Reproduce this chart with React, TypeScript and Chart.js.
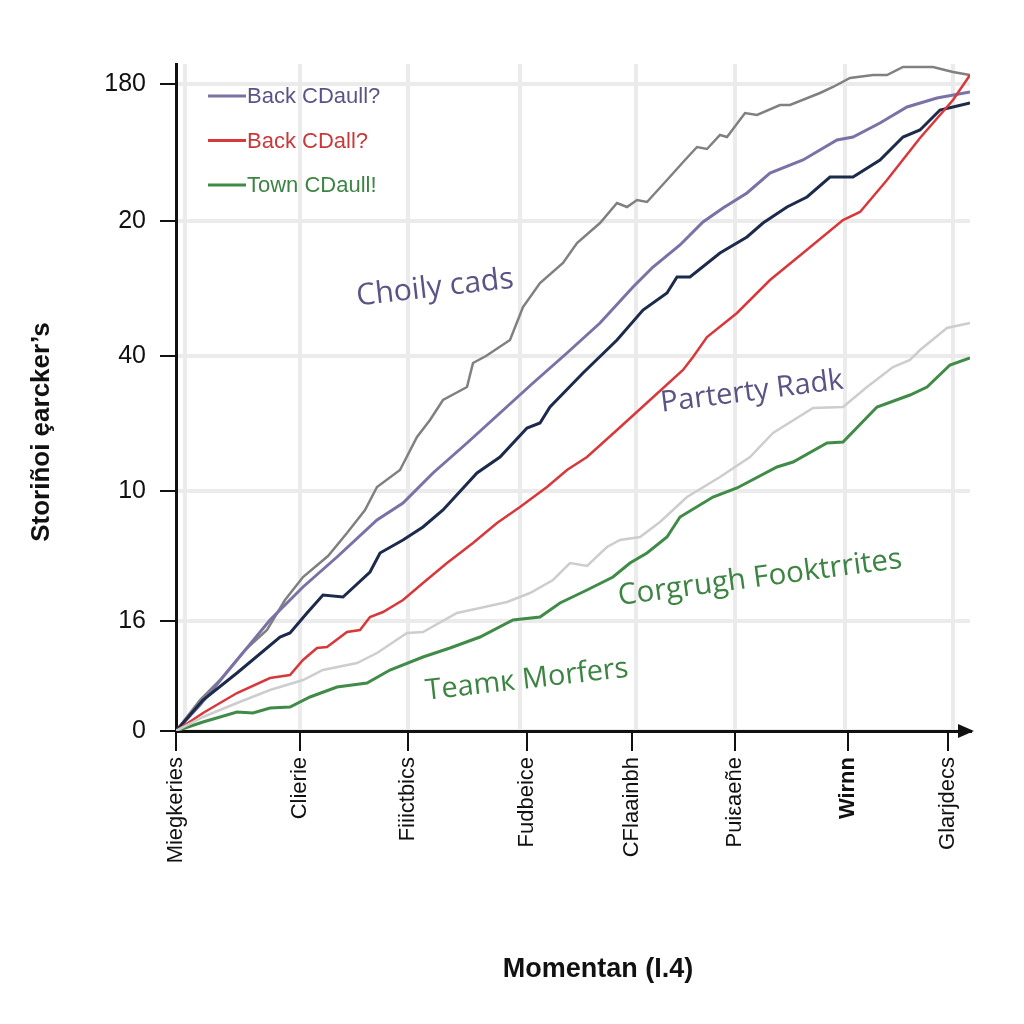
import React, { useEffect, useRef } from 'react';
import { Chart, registerables } from 'chart.js';

Chart.register(...registerables);

// ---- Data (x in "momentum" units along the axis, y in level units) ----
const X_TICKS = [0, 124, 232, 351, 456, 559, 672, 772];
const X_LABELS = ['Miegkeries', 'Clierie', 'Fiiictbics', 'Fudbeice', 'CFlaainbh', 'Puiεaeñe', 'Wirnn', 'Glarjdecs'];
const X_GRID = [9, 124, 232, 344, 460, 559, 669, 777];

const Y_TICKS = [0, 110, 240, 375, 510, 647];
const Y_LABELS = ['0', '16', '10', '40', '20', '180'];

const GRAY_X = [0, 24, 44, 69, 91, 109, 127, 152, 171, 189, 201, 224, 241, 254, 267, 291, 297, 310, 334, 347, 364, 387, 401, 424, 441, 451, 461, 471, 491, 509, 521, 531, 544, 551, 569, 581, 604, 614, 644, 657, 674, 697, 711, 727, 757, 777, 794];
const GRAY_Y = [0, 31, 51, 81, 101, 131, 154, 175, 198, 221, 244, 261, 294, 311, 331, 344, 368, 375, 391, 424, 448, 468, 488, 508, 528, 524, 531, 529, 551, 571, 584, 582, 596, 594, 618, 616, 626, 626, 638, 644, 653, 656, 656, 664, 664, 659, 656];

const PURPLE_X = [0, 24, 61, 94, 127, 161, 201, 227, 257, 291, 324, 357, 391, 424, 457, 477, 504, 527, 547, 571, 594, 627, 661, 677, 704, 731, 761, 794];
const PURPLE_Y = [0, 26, 71, 111, 144, 174, 211, 228, 258, 288, 318, 348, 378, 408, 444, 464, 486, 509, 523, 538, 558, 571, 591, 594, 608, 624, 633, 639];

const NAVY_X = [0, 27, 61, 104, 114, 131, 147, 167, 194, 204, 227, 247, 267, 301, 324, 351, 364, 374, 407, 441, 467, 491, 501, 514, 544, 571, 587, 611, 631, 654, 677, 704, 727, 744, 764, 777, 794];
const NAVY_Y = [0, 31, 58, 94, 98, 118, 136, 134, 159, 178, 191, 204, 221, 258, 274, 303, 308, 324, 358, 391, 421, 438, 454, 454, 478, 494, 508, 524, 534, 554, 554, 571, 594, 601, 621, 624, 628];

const RED_X = [0, 27, 61, 94, 114, 127, 141, 151, 171, 184, 194, 207, 227, 247, 271, 297, 321, 344, 371, 391, 411, 441, 474, 507, 517, 531, 561, 594, 627, 667, 684, 711, 744, 777, 794];
const RED_Y = [0, 18, 38, 53, 56, 71, 83, 84, 99, 101, 114, 119, 131, 148, 168, 188, 208, 224, 244, 261, 274, 301, 331, 361, 374, 394, 418, 451, 478, 511, 519, 551, 593, 631, 656];

const LIGHT_X = [0, 27, 61, 94, 127, 147, 181, 201, 231, 247, 281, 304, 331, 354, 377, 394, 411, 431, 444, 464, 484, 511, 544, 574, 597, 637, 667, 691, 717, 734, 744, 771, 794];
const LIGHT_Y = [0, 14, 28, 41, 51, 61, 68, 78, 98, 99, 118, 123, 129, 138, 151, 168, 165, 184, 191, 194, 209, 234, 254, 274, 298, 323, 324, 344, 364, 371, 381, 403, 408];

const GREEN_X = [0, 27, 61, 77, 94, 114, 134, 161, 191, 214, 247, 274, 304, 337, 364, 384, 411, 437, 454, 471, 491, 504, 537, 561, 601, 617, 651, 667, 701, 734, 751, 774, 794];
const GREEN_Y = [0, 9, 19, 18, 23, 24, 34, 44, 48, 61, 74, 83, 94, 111, 114, 128, 141, 154, 168, 178, 194, 214, 234, 243, 264, 269, 288, 289, 324, 336, 344, 366, 373];

const LEGEND_LABELS = ['Back CDaull?', 'Back CDall?', 'Town CDaull!'];

const X_TITLE = 'Momentan (I.4)';
const Y_TITLE = 'Storiñoi ȩarcker\u2019s';

// ---- Styles ----
const FONT = '"Liberation Sans", Arial, sans-serif';
const ANNO_FONT = '"Open Sans", "Noto Sans", sans-serif';
const C_GRAY = '#808080';
const C_PURPLE = '#7a72a6';
const C_NAVY = '#1c2b4b';
const C_RED = '#d8383a';
const C_LIGHT = '#cdcdcd';
const C_GREEN = '#3f8b47';
const T_PURPLE = '#5a5486';
const T_RED = '#c8393b';
const T_GREEN = '#3d8443';
const GRID = '#ebebeb';
const AXIS = '#111111';

const LEGEND_COLORS = [[C_PURPLE, T_PURPLE], [C_RED, T_RED], [C_GREEN, T_GREEN]];

const ANNOTATIONS = [
  { text: 'Choily cads', x: 259, y: 443, color: T_PURPLE, width: 158, angle: -6.5 },
  { text: 'Parterty Radk', x: 576, y: 339, color: T_PURPLE, width: 184, angle: -7.2 },
  { text: 'Corgrugh Fooktrrites', x: 584, y: 153, color: T_GREEN, width: 286, angle: -7.5 },
  { text: 'Teamк Morfers', x: 351, y: 51, color: T_GREEN, width: 204, angle: -6.5 },
];

const toPoints = (xs: number[], ys: number[]) => xs.map((x, i) => ({ x, y: ys[i] }));

const overlayPlugin = {
  id: 'overlay',
  beforeDraw(chart: any) {
    const { ctx } = chart;
    ctx.save();
    ctx.fillStyle = '#ffffff';
    ctx.fillRect(0, 0, chart.width, chart.height);
    ctx.restore();
  },
  afterDatasetsDraw(chart: any) {
    const { ctx, scales } = chart;
    ANNOTATIONS.forEach((a) => {
      const px = scales.x.getPixelForValue(a.x);
      const py = scales.y.getPixelForValue(a.y);
      ctx.save();
      ctx.font = `100px ${ANNO_FONT}`;
      const w = ctx.measureText(a.text).width;
      const size = (100 * a.width) / w;
      ctx.font = `${size}px ${ANNO_FONT}`;
      ctx.translate(px, py);
      ctx.rotate((a.angle * Math.PI) / 180);
      ctx.fillStyle = a.color;
      ctx.textAlign = 'center';
      ctx.textBaseline = 'middle';
      ctx.fillText(a.text, 0, 0);
      ctx.restore();
    });
  },
  afterDraw(chart: any) {
    const { ctx, chartArea } = chart;
    // legend
    ctx.save();
    LEGEND_LABELS.forEach((label, i) => {
      const y = 96 + i * 44.5;
      const x0 = chartArea.left + 32;
      ctx.strokeStyle = LEGEND_COLORS[i][0];
      ctx.lineWidth = 3;
      ctx.beginPath();
      ctx.moveTo(x0, y);
      ctx.lineTo(x0 + 38, y);
      ctx.stroke();
      ctx.fillStyle = LEGEND_COLORS[i][1];
      ctx.font = `22px ${FONT}`;
      ctx.textAlign = 'left';
      ctx.textBaseline = 'middle';
      ctx.fillText(label, x0 + 39, y + 1);
    });
    ctx.restore();

    // arrow at end of x axis
    ctx.save();
    ctx.fillStyle = AXIS;
    ctx.beginPath();
    const ay = chartArea.bottom;
    const ax = chartArea.right + 4;
    ctx.moveTo(ax, ay);
    ctx.lineTo(ax - 16, ay - 7);
    ctx.lineTo(ax - 16, ay + 7);
    ctx.closePath();
    ctx.fill();
    ctx.restore();

    // axis titles
    ctx.save();
    ctx.fillStyle = AXIS;
    ctx.font = `bold 27px ${FONT}`;
    ctx.textAlign = 'center';
    ctx.textBaseline = 'middle';
    ctx.fillText(X_TITLE, 598, 970);
    ctx.translate(42, 432);
    ctx.rotate(-Math.PI / 2);
    ctx.font = `bold 26px ${FONT}`;
    ctx.fillText(Y_TITLE, 0, 0);
    ctx.restore();
  },
};

export default function App() {
  const ref = useRef<HTMLCanvasElement | null>(null);

  useEffect(() => {
    if (!ref.current) return;
    const xAll = Array.from(new Set([...X_TICKS, ...X_GRID])).sort((a, b) => a - b);
    const chart = new Chart(ref.current, {
      type: 'line',
      data: {
        datasets: [
          { label: 'light', data: toPoints(LIGHT_X, LIGHT_Y), borderColor: C_LIGHT, borderWidth: 2.5 },
          { label: 'green', data: toPoints(GREEN_X, GREEN_Y), borderColor: C_GREEN, borderWidth: 3 },
          { label: 'red', data: toPoints(RED_X, RED_Y), borderColor: C_RED, borderWidth: 2.5 },
          { label: 'navy', data: toPoints(NAVY_X, NAVY_Y), borderColor: C_NAVY, borderWidth: 3 },
          { label: 'purple', data: toPoints(PURPLE_X, PURPLE_Y), borderColor: C_PURPLE, borderWidth: 3 },
          { label: 'gray', data: toPoints(GRAY_X, GRAY_Y), borderColor: C_GRAY, borderWidth: 2.5 },
        ] as any,
      },
      options: {
        animation: false,
        responsive: false,
        devicePixelRatio: 1,
        layout: { padding: { left: 0, top: 64, right: 54, bottom: 0 } },
        elements: { point: { radius: 0 }, line: { tension: 0 } },
        plugins: { legend: { display: false }, tooltip: { enabled: false } },
        scales: {
          x: {
            type: 'linear',
            min: 0,
            max: 794,
            afterBuildTicks: (scale: any) => {
              scale.ticks = xAll.map((v) => ({ value: v }));
            },
            afterFit: (scale: any) => {
              scale.height = 1024 - 731;
            },
            border: { display: true, color: AXIS, width: 3 },
            grid: {
              color: (ctx: any) => (ctx.tick && X_GRID.includes(ctx.tick.value) ? GRID : 'rgba(0,0,0,0)'),
              lineWidth: 4,
              tickLength: 20,
              tickWidth: 2,
              tickColor: (ctx: any) => (ctx.tick && X_TICKS.includes(ctx.tick.value) ? AXIS : 'rgba(0,0,0,0)'),
            },
            ticks: {
              autoSkip: false,
              minRotation: 90,
              maxRotation: 90,
              padding: 6,
              color: AXIS,
              font: (ctx: any) => {
                const i = ctx.tick ? X_TICKS.indexOf(ctx.tick.value) : -1;
                return { family: FONT, size: 22, weight: i >= 0 && X_LABELS[i] === 'Wirnn' ? 'bold' : 'normal' };
              },
              callback: (value: any) => {
                const i = X_TICKS.indexOf(Number(value));
                return i >= 0 ? X_LABELS[i] : '';
              },
            },
          },
          y: {
            type: 'linear',
            min: 0,
            max: 667,
            afterBuildTicks: (scale: any) => {
              scale.ticks = Y_TICKS.map((v) => ({ value: v }));
            },
            afterFit: (scale: any) => {
              scale.width = 176;
            },
            border: { display: true, color: AXIS, width: 3 },
            grid: {
              color: GRID,
              lineWidth: 4,
              tickLength: 16,
              tickWidth: 2,
              tickColor: AXIS,
            },
            ticks: {
              padding: 14,
              color: AXIS,
              font: { family: FONT, size: 25 },
              callback: (value: any) => {
                const i = Y_TICKS.indexOf(Number(value));
                return i >= 0 ? Y_LABELS[i] : '';
              },
            },
          },
        },
      } as any,
      plugins: [overlayPlugin],
    });
    return () => chart.destroy();
  }, []);

  return (
    <div style={{ position: 'absolute', left: 0, top: 0, width: 1024, height: 1024, background: '#fff' }}>
      <canvas ref={ref} width={1024} height={1024} style={{ width: 1024, height: 1024, display: 'block' }} />
    </div>
  );
}
